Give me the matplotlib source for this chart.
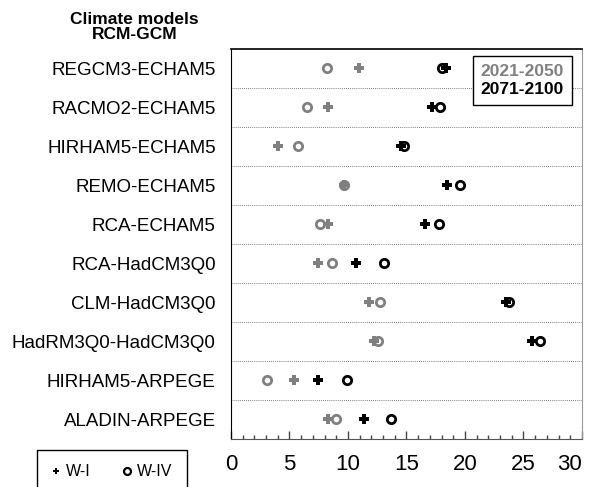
import matplotlib.pyplot as plt
from matplotlib.lines import Line2D
from matplotlib.ticker import MultipleLocator

plt.rcParams['font.family'] = ['Liberation Sans', 'DejaVu Sans']

# ---------------- Data ----------------
models = ['REGCM3-ECHAM5', 'RACMO2-ECHAM5', 'HIRHAM5-ECHAM5', 'REMO-ECHAM5',
          'RCA-ECHAM5', 'RCA-HadCM3Q0', 'CLM-HadCM3Q0', 'HadRM3Q0-HadCM3Q0',
          'HIRHAM5-ARPEGE', 'ALADIN-ARPEGE']

# 2021-2050 (gray)
wi_near = [10.95, 8.3, 4.0, 9.7, 8.3, 7.45, 11.8, 12.2, 5.4, 8.3]
wiv_near = [8.2, 6.5, 5.7, 9.7, 7.65, 8.65, 12.7, 12.55, 3.1, 8.95]
# 2071-2100 (black)
wi_far = [18.4, 17.2, 14.5, 18.5, 16.55, 10.65, 23.5, 25.75, 7.45, 11.35]
wiv_far = [18.0, 17.9, 14.8, 19.6, 17.8, 13.1, 23.75, 26.4, 9.9, 13.65]

periods = ['2021-2050', '2071-2100']
xticks = [0, 5, 10, 15, 20, 25, 30]
gray = '#808080'

# ---------------- Plot ----------------
fig = plt.figure(figsize=(5.9, 4.87), dpi=100)
ax = fig.add_axes([0.3915, 0.0986, 0.5949, 0.8008])

y = list(range(len(models)))

for yy in y[:-1]:
    ax.axhline(yy + 0.5, color='#555555', linestyle=(0, (1, 1.5)), linewidth=0.6, zorder=1)

ax.plot(wi_near, y, linestyle='none', marker='P', markersize=6.5, color=gray,
        markeredgewidth=0, zorder=3)
ax.plot(wiv_near, y, linestyle='none', marker='o', markersize=6, markerfacecolor='white',
        markeredgecolor=gray, markeredgewidth=2.0, zorder=2)
ax.plot(wi_far, y, linestyle='none', marker='P', markersize=6.5, color='black',
        markeredgewidth=0, zorder=3)
ax.plot(wiv_far, y, linestyle='none', marker='o', markersize=6, markerfacecolor='white',
        markeredgecolor='black', markeredgewidth=2.0, zorder=2)

ax.set_xlim(xticks[0], xticks[-1])
ax.set_ylim(len(models) - 0.5, -0.5)
ax.set_yticks(y)
ax.set_yticklabels(models, fontsize=13.5)
ax.tick_params(axis='y', length=0, pad=11)

ax.set_xticks(xticks)
ax.xaxis.set_minor_locator(MultipleLocator(1))
ax.tick_params(axis='x', which='major', direction='in', length=6, width=1,
               labelsize=16, pad=11, color='#444444')
ax.tick_params(axis='x', which='minor', direction='in', length=3, width=1, color='#444444')
ax.xaxis.get_major_ticks()[-1].label1.set_horizontalalignment('right')

ax.spines['left'].set_color('black')
ax.spines['top'].set_color('black')
ax.spines['top'].set_linewidth(1.2)
ax.spines['right'].set_color('#999999')
ax.spines['bottom'].set_color('#555555')

# period legend (top right)
blank = [Line2D([], [], linestyle='none') for _ in periods]
leg = ax.legend(blank, periods, loc='upper right', bbox_to_anchor=(0.971, 0.982),
                borderaxespad=0, handlelength=0, handletextpad=0,
                labelcolor=[gray, 'black'], prop={'weight': 'bold', 'size': 12.5},
                fancybox=False, edgecolor='black', framealpha=1,
                borderpad=0.45, labelspacing=0.15)
leg.get_frame().set_linewidth(1.0)

# marker legend (bottom left)
mk = [Line2D([], [], linestyle='none', marker='P', markersize=5, color='black', markeredgewidth=0),
      Line2D([], [], linestyle='none', marker='o', markersize=5, markerfacecolor='white',
             markeredgecolor='black', markeredgewidth=1.6)]
fig.legend(mk, ['W-I', 'W-IV'], loc='upper left', bbox_to_anchor=(37 / 590, 1 - 450 / 487),
           borderaxespad=0, ncol=2, fontsize=11.5, handlelength=0.6, handletextpad=0.3,
           columnspacing=2.0, fancybox=False, edgecolor='black', framealpha=1,
           borderpad=0.9)

fig.text(0.228, 0.975, 'Climate models\nRCM-GCM', ha='center', va='top',
         fontsize=12.5, fontweight='bold', linespacing=1.0)

fig.savefig('out.png', dpi=100)
